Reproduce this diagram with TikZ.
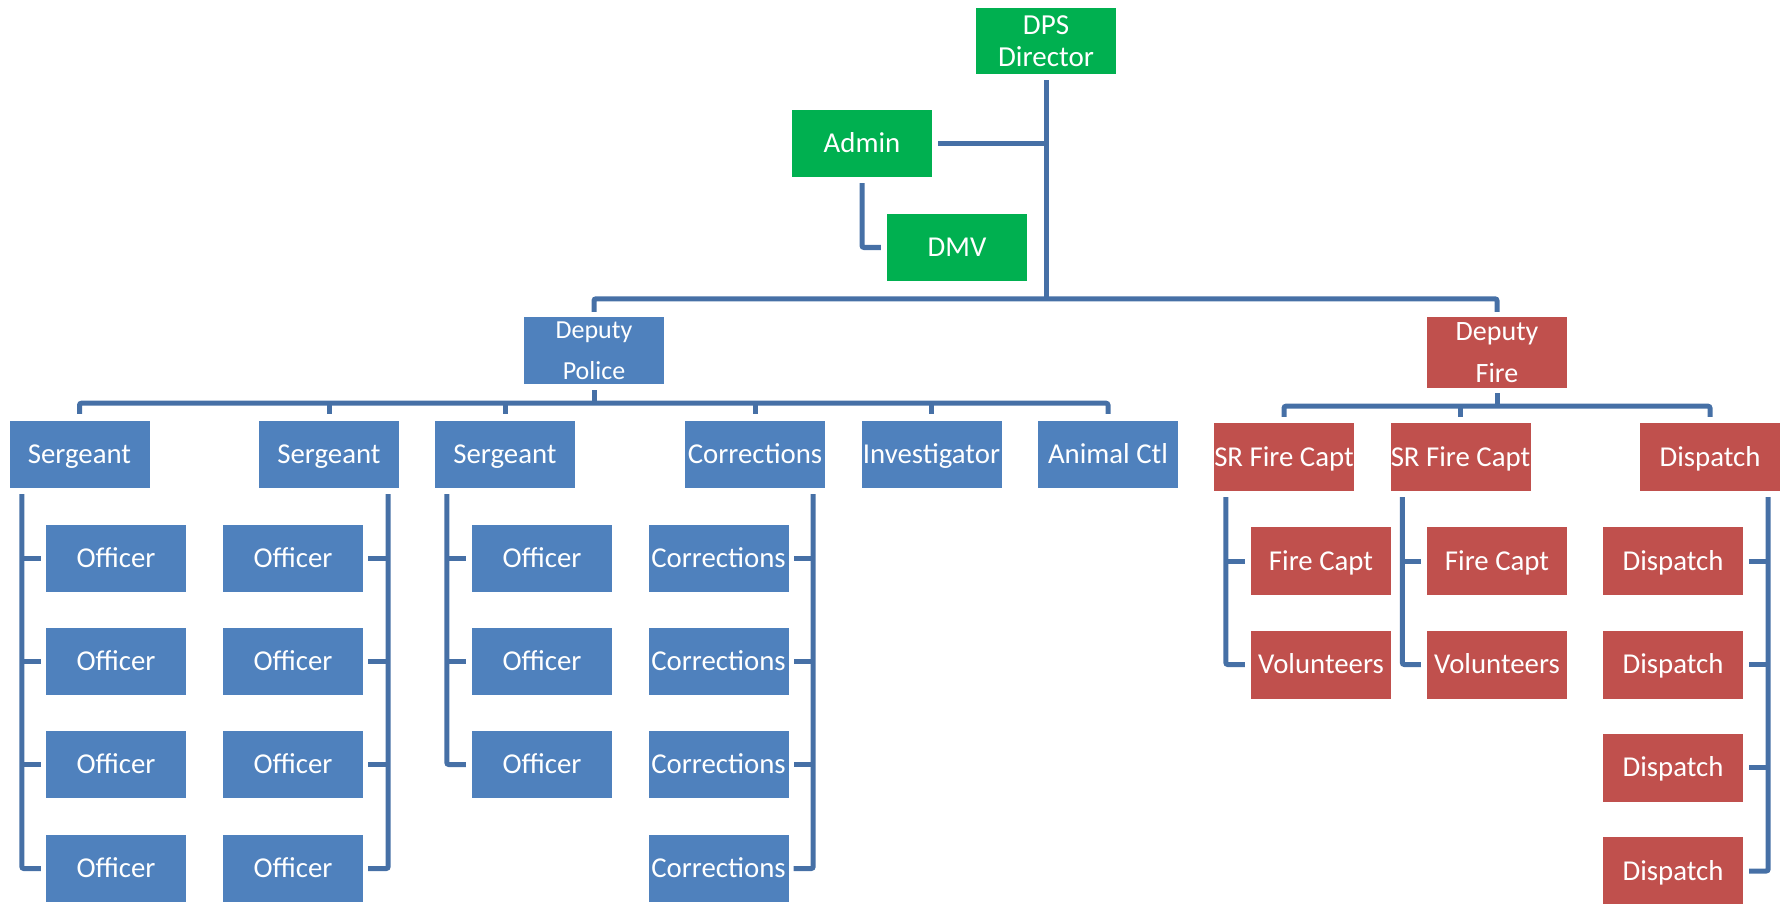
\documentclass[tikz,border=0pt]{standalone}
\usepackage{fontspec}
\setmainfont{Carlito}
\usetikzlibrary{calc}
\definecolor{bluebox}{HTML}{4F81BD}
\definecolor{redbox}{HTML}{C0504D}
\definecolor{greenbox}{HTML}{00B050}
\definecolor{linec}{HTML}{4670A6}
\begin{document}
\begin{tikzpicture}[x=1pt,y=-1pt,
  box/.style={rectangle, inner sep=0pt, minimum width=140pt, minimum height=67pt,
    text=white, font=\fontsize{28.8}{32}\selectfont, align=center,
    text height=22.5pt, text depth=4.3pt},
  twoline/.style={text height=, text depth=},
  pbox/.style={box, fill=bluebox},
  fbox/.style={box, fill=redbox, minimum height=68pt},
  gbox/.style={box, fill=greenbox},
  conn/.style={draw=linec, line width=5pt, rounded corners=2pt},
]
\useasboundingbox (0,0) rectangle (1783,904);

% top level
\node[gbox, twoline, minimum height=66pt, font=\fontsize{29}{32}\selectfont] (dps) at (1046,41) {DPS\\Director};
\node[gbox] (admin) at (862,143.5) {Admin};
\node[gbox] (dmv) at (957,247.5) {DMV};
\node[pbox, twoline, font=\fontsize{26}{41}\selectfont] (dpol) at (594,350.5) {Deputy\\Police};
\node[fbox, twoline, minimum height=71pt, font=\fontsize{28}{42}\selectfont] (dfire) at (1497,352.5) {Deputy\\Fire};

% police row
\node[pbox] (s1) at (79.5,454.5) {Sergeant};
\node[pbox] (s2) at (329,454.5) {Sergeant};
\node[pbox] (s3) at (505,454.5) {Sergeant};
\node[pbox] (corr) at (755,454.5) {Corrections};
\node[pbox] (inv) at (931.5,454.5) {Investigator};
\node[pbox] (ac) at (1108,454.5) {Animal Ctl};

% fire row
\node[fbox] (sr1) at (1284,457) {SR Fire Capt};
\node[fbox] (sr2) at (1460.5,457) {SR Fire Capt};
\node[fbox] (disp) at (1710,457) {Dispatch};

% police children
\foreach \i/\y in {1/558,2/661.5,3/764.5,4/868.5} {
  \node[pbox] (oa\i) at (116,\y) {Officer};
  \node[pbox] (ob\i) at (293,\y) {Officer};
  \node[pbox] (od\i) at (718.5,\y) {Corrections};
}
\foreach \i/\y in {1/558,2/661.5,3/764.5} {
  \node[pbox] (oc\i) at (542,\y) {Officer};
}

% fire children
\foreach \i/\y in {1/561,2/664.5,3/767.5,4/871} {
  \node[fbox] (dd\i) at (1673,\y) {Dispatch};
}
\node[fbox] (fc1) at (1321,561) {Fire Capt};
\node[fbox] (vo1) at (1321,664.5) {Volunteers};
\node[fbox] (fc2) at (1497,561) {Fire Capt};
\node[fbox] (vo2) at (1497,664.5) {Volunteers};

% ---- connectors ----
\coordinate (tb) at ($(dpol.north)+(0,-18)$);
\draw[conn] ($(dps.south)+(0,6)$) -- (dps.south |- tb);
\draw[conn] ($(dpol.north)+(0,-5)$) |- (tb -| dfire.north) -- ($(dfire.north)+(0,-5)$);
\draw[conn] ($(admin.east)+(6,0)$) -- (admin.east -| dps.south);
\draw[conn] ($(admin.south)+(0,6)$) |- ($(dmv.west)+(-6,0)$);

% police bus
\coordinate (pb) at ($(dpol.south)+(0,19)$);
\draw[conn] ($(dpol.south)+(0,6)$) -- (pb);
\draw[conn] ($(s1.north)+(0,-7)$) |- (pb -| ac.north) -- ($(ac.north)+(0,-7)$);
\foreach \n in {s2,s3,corr,inv} \draw[conn] (pb -| \n.north) -- ($(\n.north)+(0,-7)$);

% fire bus
\coordinate (fb) at ($(dfire.south)+(0,18)$);
\draw[conn] ($(dfire.south)+(0,5)$) -- (fb);
\draw[conn] ($(sr1.north)+(0,-6)$) |- (fb -| disp.north) -- ($(disp.north)+(0,-6)$);
\draw[conn] (fb -| sr2.north) -- ($(sr2.north)+(0,-6)$);

% column A (left side)
\coordinate (va) at ($(s1.south west)+(12.5,6)$);
\draw[conn] (va) |- ($(oa4.west)+(-5,0)$);
\foreach \i in {1,2,3} \draw[conn] (va |- oa\i.west) -- ($(oa\i.west)+(-5,0)$);
% column B (right side)
\coordinate (vb) at ($(s2.south east)+(-11,6)$);
\draw[conn] (vb) |- ($(ob4.east)+(5,0)$);
\foreach \i in {1,2,3} \draw[conn] (vb |- ob\i.east) -- ($(ob\i.east)+(5,0)$);
% column C (left side)
\coordinate (vc) at ($(s3.south west)+(12,6)$);
\draw[conn] (vc) |- ($(oc3.west)+(-6,0)$);
\foreach \i in {1,2} \draw[conn] (vc |- oc\i.west) -- ($(oc\i.west)+(-6,0)$);
% column D (right side)
\coordinate (vd) at ($(corr.south east)+(-12,6)$);
\draw[conn] (vd) |- ($(od4.east)+(5,0)$);
\foreach \i in {1,2,3} \draw[conn] (vd |- od\i.east) -- ($(od\i.east)+(5,0)$);

% fire columns
\coordinate (vf1) at ($(sr1.south west)+(12,6)$);
\draw[conn] (vf1) |- ($(vo1.west)+(-6,0)$);
\draw[conn] (vf1 |- fc1.west) -- ($(fc1.west)+(-6,0)$);
\coordinate (vf2) at ($(sr2.south west)+(12,6)$);
\draw[conn] (vf2) |- ($(vo2.west)+(-6,0)$);
\draw[conn] (vf2 |- fc2.west) -- ($(fc2.west)+(-6,0)$);
\coordinate (vdd) at ($(disp.south east)+(-12,6)$);
\draw[conn] (vdd) |- ($(dd4.east)+(6,0)$);
\foreach \i in {1,2,3} \draw[conn] (vdd |- dd\i.east) -- ($(dd\i.east)+(6,0)$);
\end{tikzpicture}
\end{document}
